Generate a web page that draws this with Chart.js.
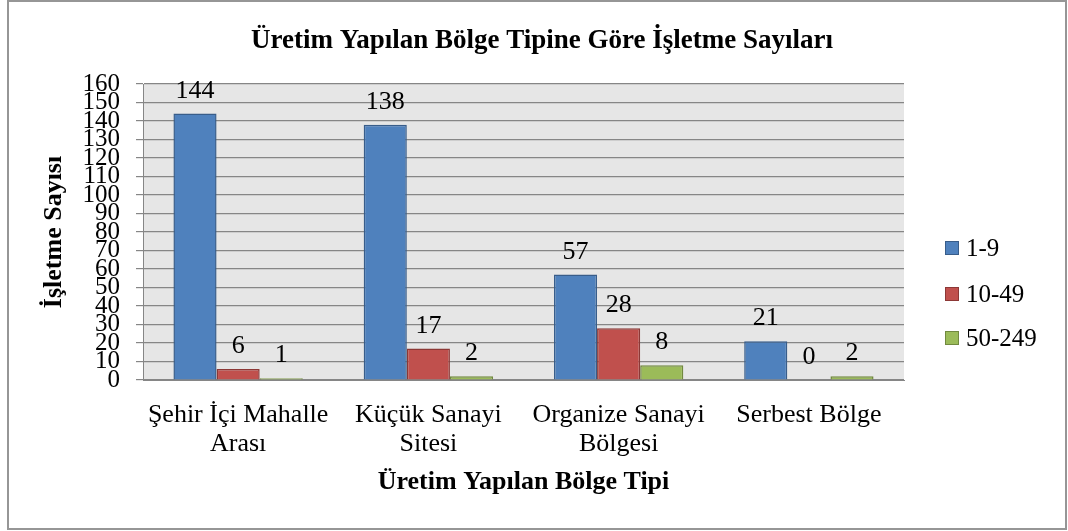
<!DOCTYPE html>
<html>
<head>
<meta charset="utf-8">
<script src="https://cdn.jsdelivr.net/npm/chart.js@4/dist/chart.umd.min.js"></script>
<style>
  html, body { margin: 0; padding: 0; background: #ffffff; }
  canvas { display: block; }
</style>
</head>
<body>
<canvas id="c" width="1068" height="531"></canvas>
<script>
const categories = [
  ["Şehir İçi Mahalle", "Arası"],
  ["Küçük Sanayi", "Sitesi"],
  ["Organize Sanayi", "Bölgesi"],
  ["Serbest Bölge"]
];
const seriesNames = ["1-9", "10-49", "50-249"];
const values_1_9 = [144, 138, 57, 21];
const values_10_49 = [6, 17, 28, 0];
const values_50_249 = [1, 2, 8, 2];
const yTickStep = 10;
const yMax = 160;

const chartTitle = "Üretim Yapılan Bölge Tipine Göre İşletme Sayıları";
const xTitle = "Üretim Yapılan Bölge Tipi";
const yTitle = "İşletme Sayısı";

const SERIF = "'Liberation Serif', 'Times New Roman', serif";

const frameAndBg = {
  id: 'frameAndBg',
  beforeDraw(chart) {
    const ctx = chart.ctx;
    const a = chart.chartArea;
    ctx.save();
    ctx.fillStyle = '#ffffff';
    ctx.fillRect(0, 0, chart.width, chart.height);
    ctx.strokeStyle = '#969696';
    ctx.lineWidth = 2;
    ctx.strokeRect(8, 1, 1058, 528);
    ctx.fillStyle = '#e6e6e6';
    ctx.fillRect(a.left, a.top, a.right - a.left, a.bottom - a.top);
    ctx.restore();
  },
  afterDraw(chart) {
    const ctx = chart.ctx;
    ctx.save();
    ctx.font = 'bold 27px ' + SERIF;
    ctx.fillStyle = '#000000';
    ctx.textAlign = 'center';
    ctx.textBaseline = 'middle';
    ctx.fillText(chartTitle, 542, 41);
    ctx.restore();
  }
};

const valueLabels = {
  id: 'valueLabels',
  afterDatasetsDraw(chart) {
    const ctx = chart.ctx;
    ctx.save();
    ctx.font = '26px ' + SERIF;
    ctx.fillStyle = '#000000';
    ctx.textAlign = 'center';
    ctx.textBaseline = 'alphabetic';
    chart.data.datasets.forEach((ds, i) => {
      const meta = chart.getDatasetMeta(i);
      meta.data.forEach((el, j) => {
        ctx.fillText(String(ds.data[j]), el.x, el.y - 16);
      });
    });
    ctx.restore();
  }
};

const sideLegend = {
  id: 'sideLegend',
  afterDraw(chart) {
    const ctx = chart.ctx;
    const ys = [248, 294, 338];
    ctx.save();
    ctx.font = '25px ' + SERIF;
    ctx.textBaseline = 'middle';
    ctx.textAlign = 'left';
    chart.data.datasets.forEach((ds, i) => {
      const y = ys[i];
      ctx.fillStyle = ds.backgroundColor;
      ctx.fillRect(945, y - 7, 14, 14);
      ctx.strokeStyle = ds.borderColor;
      ctx.lineWidth = 1;
      ctx.strokeRect(945.5, y - 6.5, 13, 13);
      ctx.fillStyle = '#000000';
      ctx.fillText(ds.label, 966, y + 1);
    });
    ctx.restore();
  }
};

new Chart(document.getElementById('c'), {
  type: 'bar',
  data: {
    labels: categories,
    datasets: [
      { label: seriesNames[0], data: values_1_9, backgroundColor: '#4f81bd', borderColor: '#385d8a', borderWidth: 1.5 },
      { label: seriesNames[1], data: values_10_49, backgroundColor: '#c0504d', borderColor: '#8c3836', borderWidth: 1.5 },
      { label: seriesNames[2], data: values_50_249, backgroundColor: '#9bbb59', borderColor: '#71893f', borderWidth: 1.5 }
    ]
  },
  options: {
    responsive: false,
    animation: false,
    devicePixelRatio: 1,
    categoryPercentage: 0.68,
    barPercentage: 1.0,
    layout: { padding: { left: 18, right: 164, top: 84, bottom: 33 } },
    plugins: {
      legend: { display: false },
      tooltip: { enabled: false },
      title: { display: false }
    },
    scales: {
      x: {
        grid: { display: false, drawTicks: false },
        border: { display: true, color: '#868686', width: 1 },
        ticks: {
          color: '#000000',
          font: { family: SERIF, size: 26, lineHeight: 1.1 },
          padding: 21,
          maxRotation: 0,
          minRotation: 0,
          autoSkip: false
        },
        title: {
          display: true,
          text: xTitle,
          color: '#000000',
          font: { family: SERIF, size: 26, weight: 'bold', lineHeight: 1.2 },
          padding: { top: 0, bottom: 0 }
        },
        afterFit(scale) { scale.height = 118; }
      },
      y: {
        min: 0,
        max: yMax,
        grid: { color: '#868686', lineWidth: 1.2, drawTicks: true, tickLength: 7, tickColor: '#868686' },
        border: { display: true, color: '#868686', width: 1 },
        ticks: {
          stepSize: yTickStep,
          autoSkip: false,
          maxTicksLimit: 50,
          color: '#000000',
          font: { family: SERIF, size: 25, lineHeight: 1.0 },
          padding: 16
        },
        title: {
          display: true,
          text: yTitle,
          color: '#000000',
          font: { family: SERIF, size: 26, weight: 'bold', lineHeight: 1.2 },
          padding: { top: 21, bottom: 0 }
        },
        afterFit(scale) { scale.width = 125; }
      }
    }
  },
  plugins: [frameAndBg, valueLabels, sideLegend]
});
</script>
</body>
</html>
